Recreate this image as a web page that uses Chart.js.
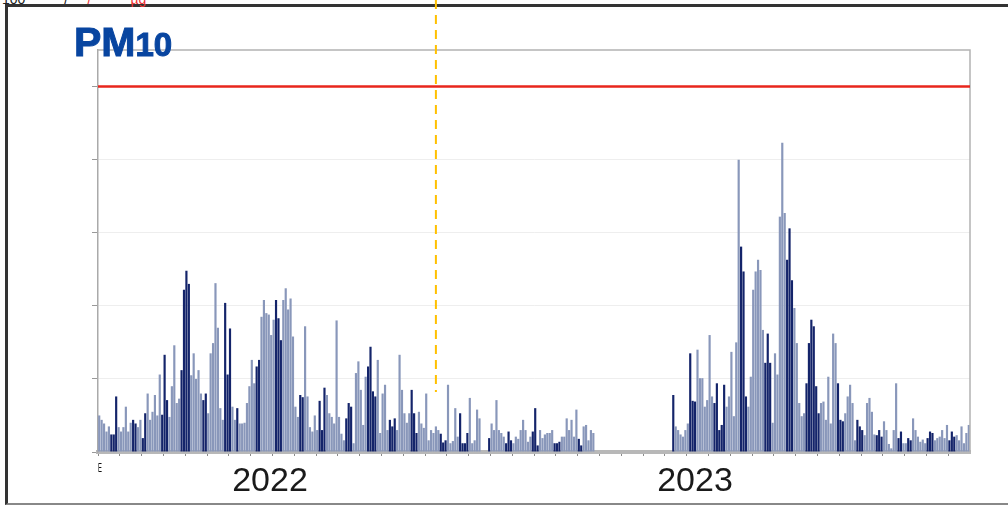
<!DOCTYPE html>
<html>
<head>
<meta charset="utf-8">
<script src="https://cdn.jsdelivr.net/npm/chart.js@4.4.1/dist/chart.umd.min.js"></script>
<style>
    html, body { margin: 0; padding: 0; background: #fff; }
    #wrap { position: relative; width: 1008px; height: 506px; overflow: hidden; font-family: "Liberation Sans", Arial, sans-serif; }
    #frame { position: absolute; left: 5px; top: 4px; width: 1020px; height: 496px; border-left: 3px solid #333; border-top: 3px solid #333; border-bottom: 2px solid #888; }
    #cut { position: absolute; left: 2px; top: -9px; font-size: 14px; color: #222; white-space: pre; }
    #cut span { color: #e33; }
    canvas { position: absolute; left: 0; top: 0; }
    #title { position: absolute; left: 74px; top: 22px; color: #0845a0; font-weight: bold; font-size: 41px; line-height: 1; white-space: nowrap; -webkit-text-stroke: 1px #0845a0; }
    #title span { font-size: 33px; }
    .year { position: absolute; top: 462px; width: 140px; margin-left: -70px; text-align: center; font-size: 34px; line-height: 1; color: #1a1a1a; }
    #tiny { position: absolute; left: 98px; top: 460px; font-size: 13px; color: #111; transform: scaleX(0.45); transform-origin: left top; }
</style>
</head>
<body>
<div id="wrap">
    <div id="frame"></div>
    <div id="cut">100          /     <span>/          µg</span></div>
    <canvas id="pm10Chart" width="1008" height="506"></canvas>
    <div id="title">PM<span>10</span></div>
    <div class="year" style="left:270px">2022</div>
    <div class="year" style="left:695px">2023</div>
    <div id="tiny">E</div>
</div>
<script>
// ==================== DADOS ====================
// PM10 (µg/m³), one bar per period
const pm10Values = [
    5.0, 4.4, 3.9, 2.8, 3.5, 2.4, 2.4, 7.6, 3.4, 2.8,
    3.4, 6.2, 2.8, 4.0, 4.4, 3.9, 3.4, 4.4, 1.9, 5.3,
    8.0, 4.4, 5.5, 7.8, 5.0, 10.6, 5.1, 13.3, 7.1, 4.8,
    9.0, 14.6, 6.7, 7.3, 11.2, 22.2, 24.8, 23.0, 10.5, 13.5,
    10.0, 11.2, 8.0, 7.1, 8.0, 5.3, 13.5, 14.9, 23.1, 17.0,
    6.0, 4.4, 20.4, 10.6, 16.9, 6.2, 4.4, 6.0, 3.9, 3.9,
    4.0, 6.7, 9.0, 12.6, 9.4, 11.7, 12.6, 18.5, 20.8, 19.0,
    18.8, 16.0, 18.1, 20.8, 18.3, 15.3, 20.8, 22.4, 19.5, 21.0,
    15.8, 6.2, 4.8, 7.8, 7.5, 17.2, 7.6, 3.4, 2.8, 5.0,
    3.0, 7.0, 3.0, 8.8, 7.8, 5.3, 4.8, 3.9, 18.0, 4.8,
    2.5, 1.6, 4.6, 6.7, 6.2, 1.2, 10.8, 12.4, 8.5, 3.7,
    10.3, 11.7, 14.4, 8.3, 7.6, 12.6, 2.6, 8.0, 9.2, 3.0,
    4.4, 3.5, 4.6, 3.0, 13.3, 8.5, 5.3, 4.0, 5.3, 8.5,
    5.3, 2.6, 5.5, 3.9, 3.3, 8.0, 1.6, 3.0, 2.6, 3.5,
    3.0, 2.5, 1.3, 1.6, 9.2, 1.2, 1.5, 6.0, 2.1, 5.3,
    1.2, 1.2, 2.6, 7.4, 1.2, 1.6, 5.8, 4.6, 0, 0,
    0, 1.9, 3.9, 3.0, 7.1, 3.0, 2.6, 2.1, 1.2, 2.8,
    1.6, 1.2, 2.1, 1.8, 3.0, 4.4, 3.0, 1.4, 2.1, 2.8,
    6.0, 0.9, 3.0, 1.9, 2.4, 2.6, 2.6, 3.0, 1.2, 1.2,
    1.4, 2.1, 2.1, 4.6, 3.0, 4.4, 2.1, 5.8, 1.8, 0.9,
    3.5, 3.7, 1.6, 3.0, 2.6, null, null, null, null, null,
    null, null, null, null, null, null, null, null, null, null,
    null, null, null, null, null, null, null, null, null, null,
    null, null, null, null, null, null, null, 7.8, 3.5, 3.0,
    2.4, 2.1, 3.0, 3.9, 13.5, 7.0, 6.9, 14.0, 10.1, 10.1,
    6.2, 7.1, 16.0, 7.6, 6.7, 9.4, 3.0, 3.7, 9.2, 6.2,
    7.6, 13.7, 4.9, 15.0, 40.0, 28.1, 24.7, 7.6, 6.2, 10.3,
    22.2, 24.7, 26.3, 24.9, 16.7, 12.2, 16.2, 12.2, 4.0, 13.5,
    10.6, 32.2, 42.3, 32.7, 26.3, 30.6, 23.5, 19.7, 14.9, 6.7,
    4.9, 5.3, 9.4, 14.9, 18.1, 17.2, 9.0, 5.3, 6.7, 6.9,
    4.4, 10.3, 3.9, 16.2, 14.9, 9.4, 4.4, 4.2, 5.3, 7.6,
    9.2, 6.7, 1.6, 4.4, 3.5, 3.0, 2.3, 6.7, 7.4, 5.5,
    2.4, 2.3, 3.0, 2.1, 4.2, 3.0, 1.1, 0.5, 3.0, 9.4,
    1.9, 2.8, 1.2, 1.2, 1.9, 1.6, 4.6, 3.0, 2.1, 1.4,
    1.7, 1.2, 1.9, 2.8, 2.6, 1.6, 1.9, 2.1, 3.0, 1.9,
    3.7, 1.6, 2.8, 2.1, 2.3, 1.6, 3.5, 1.2, 2.6, 3.7
];

// periods drawn in dark navy (episodes)
const episodeRanges = [
    [5, 7], [14, 15], [18, 19], [26, 28], [34, 37], [43, 44], [52, 54], [57, 57],
    [65, 66], [73, 75], [83, 84], [91, 93],
    [102, 104], [111, 114], [120, 122], [129, 131], [141, 143], [149, 152], [161, 161],
    [168, 170], [179, 181], [188, 190], [198, 199],
    [237, 237], [244, 246], [254, 258], [265, 267], [275, 277], [284, 286], [292, 297],
    [305, 307], [313, 315],
    [321, 323], [330, 331], [334, 335], [342, 344], [351, 353]
];

const periodLabels = pm10Values.map((_, i) => 'P' + (i + 1));
const limitValue = 50;      // valor limite diário
const eventPeriod = 139;    // linha tracejada laranja
const eventLineEnd = 8.2;   // até onde desce a linha tracejada

// ==================== ESTILO ====================
const LIGHT = '#8997ba';
const DARK = '#14246a';
const barColors = pm10Values.map((v, i) =>
    episodeRanges.some(([a, b]) => i >= a && i <= b) ? DARK : LIGHT);

const overlay = {
    id: 'overlay',
    afterDatasetsDraw(chart) {
        const { ctx, chartArea: a, scales: { x, y } } = chart;
        ctx.save();
        // moldura cinza (topo e direita)
        ctx.strokeStyle = '#b3b3b3';
        ctx.lineWidth = 1.5;
        ctx.beginPath();
        ctx.moveTo(a.left, a.top);
        ctx.lineTo(a.right, a.top);
        ctx.lineTo(a.right, a.bottom);
        ctx.stroke();
        // linha limite vermelha
        const yl = y.getPixelForValue(limitValue);
        ctx.strokeStyle = '#e8261c';
        ctx.lineWidth = 2.5;
        ctx.beginPath();
        ctx.moveTo(a.left, yl);
        ctx.lineTo(a.right, yl);
        ctx.stroke();
        // linha tracejada laranja
        const xe = x.getPixelForValue(eventPeriod);
        ctx.strokeStyle = '#ffc000';
        ctx.lineWidth = 2;
        ctx.setLineDash([9, 6]);
        ctx.beginPath();
        ctx.moveTo(xe, 0);
        ctx.lineTo(xe, y.getPixelForValue(eventLineEnd));
        ctx.stroke();
        ctx.restore();
    }
};

// ==================== GRÁFICO ====================
const ctx = document.getElementById('pm10Chart').getContext('2d');
const pm10Chart = new Chart(ctx, {
    type: 'bar',
    data: {
        labels: periodLabels,
        datasets: [{
            data: pm10Values,
            backgroundColor: barColors,
            borderWidth: 0,
            barPercentage: 0.9,
            categoryPercentage: 1
        }]
    },
    options: {
        responsive: false,
        animation: false,
        devicePixelRatio: 1,
        layout: { padding: { left: 92, right: 38, top: 50, bottom: 50 } },
        plugins: { legend: { display: false }, tooltip: { enabled: false } },
        scales: {
            x: {
                ticks: { display: false },
                grid: {
                    drawOnChartArea: false,
                    tickLength: 4,
                    color: (c) => c.index % 9 === 0 ? '#8a8a8a' : 'rgba(0,0,0,0)'
                },
                border: { color: '#b8b8b8', width: 4 }
            },
            y: {
                min: 0,
                max: 55,
                ticks: { display: false, stepSize: 10 },
                grid: {
                    tickLength: 6,
                    color: (c) => (c.tick.value > 0 && c.tick.value < 50) ? '#eeeeee' : 'rgba(0,0,0,0)',
                    tickColor: (c) => c.tick.value <= 50 ? '#999999' : 'rgba(0,0,0,0)'
                },
                border: { color: '#aaaaaa', width: 1.5 }
            }
        }
    },
    plugins: [overlay]
});
</script>
</body>
</html>
